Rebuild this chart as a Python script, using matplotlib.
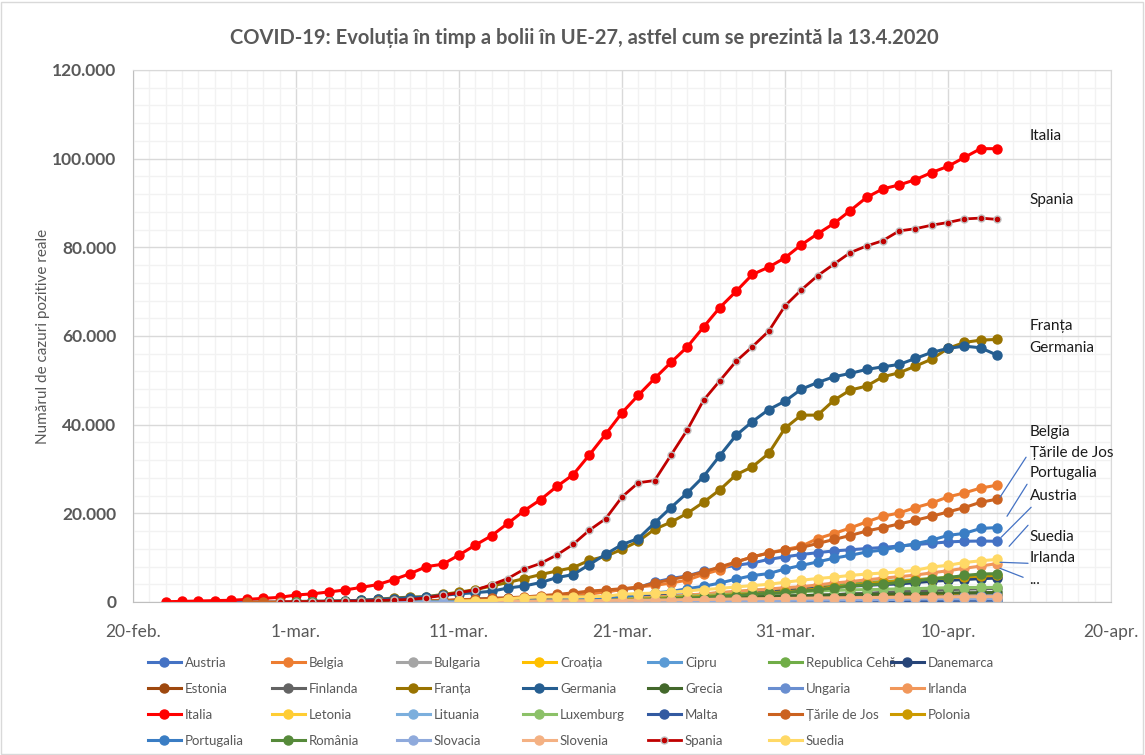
import pandas as pd
import matplotlib
matplotlib.use("Agg")
import matplotlib.pyplot as plt
import matplotlib.dates as mdates
from matplotlib.ticker import MultipleLocator, FuncFormatter
from matplotlib.patches import Rectangle

plt.rcParams["font.family"] = ["Lato", "DejaVu Sans"]

# every series ends on 13.4.2020, one value per day
end_day = "2020-04-13"

austria = [2, 2, 3, 3, 9,
           14, 18, 21, 29, 41, 55, 79, 104, 131, 182,
           246, 302, 504, 655, 860, 1016, 1332, 1646, 2013, 2388,
           2814, 3244, 4486, 5283, 5888, 6909, 7657, 8271, 8788, 9618, 10180,
           10711, 11129, 11524, 11781, 12051, 12297, 12639, 12942, 13244, 13555, 13700, 13750, 13700]
belgia = [2, 8, 13, 23, 50, 109, 169, 200, 239, 267,
          314, 559, 689, 886, 1058, 1243, 1486, 1795, 2257, 2815,
          3401, 3743, 4269, 4937, 6235, 7284, 9030, 10160, 11060, 11830,
          12570, 14310, 15440, 16700, 18060, 19340, 20080, 21300, 22340, 23700, 24600, 25700, 26340]
bulgaria = [4, 4, 6, 7, 23, 31, 41, 51, 52, 67,
            92, 94, 127, 163, 187, 201, 218, 242, 264, 293,
            331, 346, 359, 399,
            422, 457, 485, 503, 531, 549, 577, 593, 618, 635, 661, 661, 661]
croatia = [7, 7, 9, 10, 11, 11, 12, 12, 12, 12,
           14, 19, 32, 38, 49, 57, 65, 81, 105, 128,
           206, 254, 315, 382, 442, 495, 586, 657, 713, 790, 867,
           963, 1011, 1079, 1126, 1182, 1222, 1282, 1343, 1407, 1495, 1534, 1600, 1650]
cipru = [2, 6, 6, 18, 26, 26, 33, 46, 49, 58,
         67, 75, 84, 95, 116, 124, 132, 146, 162, 179,
         214, 230, 262,
         320, 356, 396, 426, 446, 465, 494, 526, 564, 595, 616, 633, 662]
cehia = [3, 3, 5, 5, 8, 12, 19, 26, 32, 40,
         63, 94, 116, 141, 189, 298, 383, 450, 560, 765,
         889, 1047, 1161, 1287, 1497, 1775, 2062, 2279, 2631, 2817, 3001,
         3308, 3589, 3858, 4091, 4472, 4587, 4822, 5017, 5312, 5569, 5732, 5831, 5900]
danemarca = [4, 4, 10, 15, 20, 23, 31, 35, 90, 262,
             442, 615, 801, 836, 875, 898, 960, 1044, 1151, 1255,
             1326, 1395, 1460, 1514, 1572, 1724, 1877, 2023, 2201, 2395, 2577,
             2860, 3107, 3386, 3573, 3757, 3946, 4077, 4369, 4681, 4875, 5071, 5266, 5400]
estonia = [1, 1, 2, 3, 3, 3, 10, 10, 10, 13,
           16, 27, 79, 115, 171, 205, 225, 258, 267, 283,
           306, 326, 352, 369, 404, 538, 575, 645, 679, 715, 745,
           779, 858, 961, 1039, 1097, 1108, 1149, 1185, 1207, 1258, 1304, 1309, 1309]
finlanda = [3, 6, 7, 7, 12, 15, 19, 23, 30, 40,
            59, 109, 155, 225, 244, 277, 321, 359, 400, 450,
            523, 626, 700, 792, 880, 958, 1041, 1167, 1240, 1352, 1384,
            1446, 1518, 1615, 1882, 1927, 2176, 2308, 2487, 2605, 2769, 2905, 2974, 3064]
franta = [100, 130, 190, 280, 370, 600, 900, 1100, 1200, 1700, 2200, 2800,
          3600, 4400, 5280, 6180, 7000, 7760, 9410, 10310, 11890, 13700,
          16410, 18000, 20000, 22500, 25300, 28700, 30500, 33500, 39200,
          42150, 42150, 45500, 47800, 48700, 50800, 51700, 53200, 54780, 57200, 58550, 59070, 59230]
germania = [120, 150, 190, 250, 380, 590, 760, 990, 1150, 1500, 1850, 2100,
            2420, 3160, 3610, 4380, 5510, 6180, 8440, 10770, 12960, 14310,
            17830, 21300, 24600, 28300, 33000, 37600, 40700, 43400, 45300,
            48000, 49500, 50800, 51560, 52460, 53050, 53580, 54940, 56300, 57200, 57720, 57340, 55700]
grecia = [7, 7, 7, 9, 31, 45, 66, 73, 73, 89,
          99, 117, 190, 228, 331, 331, 387, 418, 464, 495,
          530, 624, 695, 743, 821, 892, 966, 1061, 1156, 1212, 1314,
          1415, 1544, 1613, 1673, 1735, 1755, 1832, 1884, 1955, 2011, 2081, 2114, 2145]
ungaria = [2, 2, 7, 7, 9, 9, 12, 13, 16, 19,
           30, 32, 39, 50, 58, 73, 85, 103, 131, 167,
           187, 226, 261, 300, 343, 408, 447, 492,
           525, 585, 623, 678, 733, 744, 817, 895, 980, 1190, 1310, 1380, 1410]
irlanda = [1, 6, 18, 19, 21, 21, 34, 43, 70, 90,
           129, 169, 223, 292, 366, 557, 683, 785, 906, 1125,
           1329, 1564, 1819, 2121, 2415, 2615, 2910, 3235,
           3447, 3849, 4273, 4604, 4994, 5364, 5709, 6074, 6574, 7054, 7600, 8100, 8670]
italia = [62, 134, 221, 311, 385, 588, 821, 1049,
          1577, 1835, 2263, 2706, 3296, 3916, 5061, 6387, 7985, 8514,
          10590, 12839, 14955, 17750, 20603, 23073, 26062, 28710, 33190, 37860,
          42681, 46638, 50418, 54030, 57521, 62013, 66414, 70065, 73880, 75528, 77635,
          80572, 83049, 85388, 88274, 91246, 93187, 94067, 95262, 96877, 98273, 100269, 102253, 102253]
letonia = [1, 1, 1, 1, 2, 6, 8, 10, 16, 17,
           26, 30, 34, 49, 71, 86, 111, 124, 139, 180,
           197, 221, 244, 280, 305, 347, 347, 376, 398,
           446, 458, 493, 509, 533, 542, 548, 577, 589, 612, 630, 651, 661]
lituania = [1, 1, 1, 1, 1, 1, 1, 1, 1, 3,
            3, 6, 8, 12, 14, 17, 25, 27, 36, 49,
            83, 143, 179, 209, 274, 299, 358, 394, 460, 491, 537,
            581, 649, 696, 771, 811, 843, 880, 912, 955, 999, 1026, 1053, 1091]
luxemburg = [1, 1, 1, 2, 2, 3, 4, 5, 5, 7,
             7, 26, 34, 51, 59, 81, 140, 210, 335, 484,
             670, 798, 875, 1099, 1333, 1453, 1605, 1831, 1950, 1988, 2178,
             2319, 2487, 2612, 2729, 2804, 2843, 2970, 3034, 3115, 3223, 3270, 3281, 3292]
malta = [1, 3, 3, 5, 6, 12, 18, 21, 38, 38,
         48, 53, 64, 73, 90, 107, 110, 129, 134, 139,
         149, 151, 156, 167, 169,
         188, 196, 202, 213, 227, 241, 293, 299, 337, 350, 370, 378, 384]
tarile_de_jos = [1, 2, 7,
                 10, 18, 24, 38, 82, 128, 188, 265, 321, 382,
                 503, 614, 804, 959, 1135, 1413, 1705, 2051, 2460, 2700,
                 3000, 3300, 4290, 5050, 5800, 6770, 7900, 9030, 10160, 11060, 11670,
                 12300, 13200, 14100, 15000, 16000, 16790, 17600, 18440, 19340, 20310, 21300, 22500, 23180]
polonia = [1, 1, 5, 5, 11, 16, 22, 31, 51, 68,
           104, 125, 177, 238, 251, 355, 425, 536, 634, 749,
           901, 1051, 1221, 1389, 1638, 1862, 2055, 2311,
           2554, 2946, 3383, 3627, 4102, 4413, 4700, 4950, 5200, 5450, 5650, 5850, 6000]
portugalia = [2, 4, 6, 9, 13, 21, 30, 39, 41, 59,
              78, 112, 169, 245, 331, 448, 642, 785, 1020, 1280,
              1600, 2060, 2362, 2995, 3544, 4268, 5170, 5962, 6408, 7443,
              8251, 9034, 9886, 10524, 11278, 11730, 12442, 13141, 13956, 15029, 15472, 16585, 16790]
romania = [3, 3, 3, 4, 6, 9, 9, 15, 15, 25,
           29, 49, 89, 123, 131, 158, 184, 260, 277, 308,
           367, 433, 576, 762, 906, 1029, 1292, 1452, 1760, 1952, 2109,
           2460, 2738, 3183, 3613, 3864, 4057, 4417, 4761, 5202, 5467, 5990, 6300, 6400]
slovacia = [3, 5, 7, 7, 10, 16, 32, 44, 54, 63,
            72, 105, 123, 137, 178, 185, 186, 204, 216, 226,
            269, 292, 314, 336, 363,
            400, 426, 450, 471, 485, 534, 581, 682, 701, 715, 715, 728, 742]
slovenia = [96, 141, 181, 219, 253, 275, 286, 341, 383, 414,
            442, 480, 528, 562, 632, 684, 730, 756, 802,
            841, 897, 934, 977, 997, 1021, 1059, 1091, 1124, 1160, 1188, 1205, 1212]
spania = [30, 60, 90, 120, 170, 230, 330, 450, 560, 950,
          1510, 2100, 2700, 3900, 5300, 7400, 8700, 10600, 13000, 16200,
          18800, 23700, 26900, 27400, 33100, 38800, 45500, 49900, 54300, 57600,
          61100, 66800,
          70400, 73600, 76200, 78800, 80300, 81500, 83700, 84200, 85000, 85600, 86400, 86600, 86300]
suedia = [230, 300, 350, 700, 1000, 1130, 1130, 1130, 1200, 1290,
          1740, 1900, 2000, 2200, 2500, 2800, 3050, 3400, 3700, 4000, 4450,
          4900, 5300, 5600, 6000, 6300, 6550, 6770, 7150, 7900, 8280, 8900, 9300, 9600]

names = ["Austria", "Belgia", "Bulgaria", "Croația", "Cipru", "Republica Cehă", "Danemarca",
         "Estonia", "Finlanda", "Franța", "Germania", "Grecia", "Ungaria", "Irlanda",
         "Italia", "Letonia", "Lituania", "Luxemburg", "Malta", "Țările de Jos", "Polonia",
         "Portugalia", "România", "Slovacia", "Slovenia", "Spania", "Suedia"]
series = [austria, belgia, bulgaria, croatia, cipru, cehia, danemarca,
          estonia, finlanda, franta, germania, grecia, ungaria, irlanda,
          italia, letonia, lituania, luxemburg, malta, tarile_de_jos, polonia,
          portugalia, romania, slovacia, slovenia, spania, suedia]
colors = ["#4472C4", "#ED7D31", "#A5A5A5", "#FFC000", "#5B9BD5", "#70AD47", "#264478",
          "#9E480E", "#636363", "#997300", "#255E91", "#43682B", "#698ED0", "#F1975A",
          "#FF0000", "#FFCD33", "#7CAFDD", "#8CC168", "#335AA1", "#CB6220", "#CC9A00",
          "#3A7DC4", "#568A3A", "#8FAADC", "#F4B183", "#C00000", "#FFD966"]

# labels on the right: (text, y value where the label sits)
right_labels = [("Italia", 105100), ("Spania", 90650), ("Franța", 62230), ("Germania", 57260),
                ("Belgia", 38300), ("Țările de Jos", 33560), ("Portugalia", 29050),
                ("Austria", 23870), ("Suedia", 14600), ("Irlanda", 9860), ("...", 4900)]
# leader lines: (day from 20 feb, value) -> (day, value)
leaders = [(54.79, 32660, 53.19, 23630), (54.85, 26560, 53.62, 19340),
           (55.10, 21370, 53.26, 14600), (54.91, 17310, 53.75, 12570),
           (54.91, 8730, 53.19, 8960), (54.61, 5570, 53.19, 7600)]

W, H = 1145, 755
fig = plt.figure(figsize=(W / 100, H / 100), dpi=100)
ax = fig.add_axes([133 / W, 1 - 602 / H, 978 / W, 532 / H])

handles = []
for name, vals, col in zip(names, series, colors):
    days = pd.date_range(end=end_day, periods=len(vals))
    if name == "Spania":
        h, = ax.plot(days, vals, color=col, lw=2.0, marker="o", ms=5, mfc=col,
                     mec="#BFBFBF", mew=1.0, label=name)
    else:
        h, = ax.plot(days, vals, color=col, lw=2.2, marker="o", ms=6.5, mec=col, label=name)
    handles.append(h)

luni = {2: "feb", 3: "mar", 4: "apr"}
ax.set_xlim(pd.Timestamp("2020-02-20"), pd.Timestamp("2020-04-20"))
ax.set_xticks(pd.date_range("2020-02-20", "2020-04-20", freq="10D"))
ax.xaxis.set_major_formatter(FuncFormatter(
    lambda v, p: f"{mdates.num2date(v).day}-{luni[mdates.num2date(v).month]}."))
ax.xaxis.set_minor_locator(mdates.DayLocator())

ax.set_ylim(0, 120000)
ax.yaxis.set_major_locator(MultipleLocator(20000))
ax.yaxis.set_minor_locator(MultipleLocator(4000))
ax.yaxis.set_major_formatter(FuncFormatter(lambda v, p: f"{int(v):,}".replace(",", ".")))

ax.grid(which="major", color="#D9D9D9", lw=1)
ax.grid(which="minor", color="#F2F2F2", lw=1)
ax.set_axisbelow(True)
ax.tick_params(which="both", length=0)
ax.tick_params(axis="y", labelsize=12.5, labelcolor="#595959", pad=12)
ax.tick_params(axis="x", labelsize=12.5, labelcolor="#595959", pad=16)
for t in ax.get_yticklabels():
    t.set_fontweight("bold")
for s in ax.spines.values():
    s.set_color("#D9D9D9")
ax.spines["left"].set_color("#BFBFBF")
ax.spines["bottom"].set_color("#BFBFBF")

ax.set_ylabel("Numărul de cazuri pozitive reale", fontsize=11, color="#595959")
ax.yaxis.set_label_coords(-0.085, 0.5)

fig.text(584 / W, 1 - 38 / H,
         "COVID-19: Evoluția în timp a bolii în UE-27, astfel cum se prezintă la 13.4.2020",
         ha="center", va="center", fontsize=14.5, fontweight="bold", color="#595959")

x0 = mdates.date2num(pd.Timestamp("2020-02-20"))
for txt, yv in right_labels:
    ax.text(pd.Timestamp("2020-04-15"), yv, txt, fontsize=11, va="center", ha="left",
            color="#1a1a1a", clip_on=False)
for d1, v1, d2, v2 in leaders:
    ax.annotate("", xy=(x0 + d2, v2), xytext=(x0 + d1, v1),
                arrowprops=dict(arrowstyle="-", color="#4472C4", lw=0.9,
                                shrinkA=0, shrinkB=0), annotation_clip=False)

# legend: 7 equal columns, filled row by row
leg_x = [148, 272, 397, 523, 648, 769, 891]
for j, lx in enumerate(leg_x):
    hs = handles[j::7]
    fig.legend(hs, [h.get_label() for h in hs], loc="upper left",
               bbox_to_anchor=(lx / W, 1 - 657 / H), frameon=False, fontsize=9.5,
               labelcolor="#595959", handlelength=2.5, handletextpad=0.3,
               labelspacing=1.05, borderpad=0, borderaxespad=0)

fig.patches.append(Rectangle((0.001, 0.001), 0.997, 0.997, transform=fig.transFigure,
                             fill=False, ec="#D9D9D9", lw=1))

fig.savefig("out.png", dpi=100)
